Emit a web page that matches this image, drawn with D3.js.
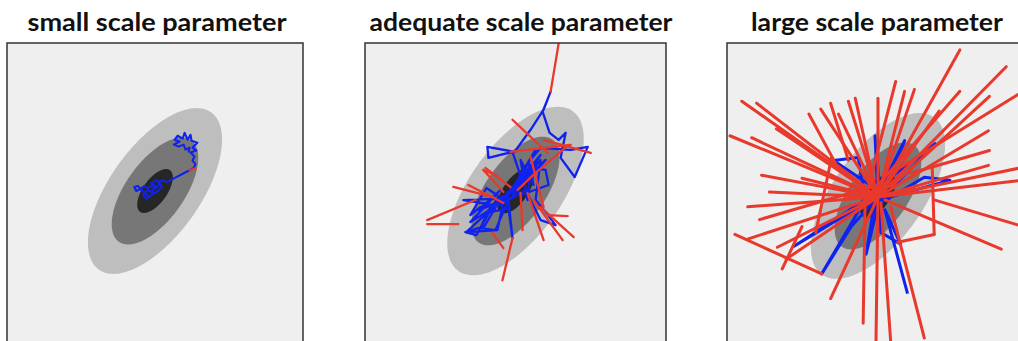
<!DOCTYPE html>
<html>
<head>
<meta charset="utf-8">
<script src="https://cdn.jsdelivr.net/npm/d3@7"></script>
<style>
  body { margin: 0; background: #fff; }
  svg { display: block; }
</style>
</head>
<body>
<div id="chart"></div>
<script>
// titles of the three panels
const titles = ["small scale parameter", "adequate scale parameter", "large scale parameter"];

// target density (2d gaussian) and the contour levels drawn (mahalanobis radius)
const targetSigma = [0.68, 0.84];
const targetRho = 0.62;
const contourRadii = [2.0, 1.29, 0.53];
const targetMean = [[0, 0], [0, 0], [0.06, -0.1]];

// accepted chain states (blue path), small proposal scale
const chainSmall = [
  [-0.10,-0.10],[-0.18,-0.16],[-0.24,-0.08],[-0.16,0.02],[-0.06,-0.02],[0.00,0.10],
  [-0.08,0.16],[0.04,0.22],[0.10,0.14],[0.02,0.06],[-0.04,0.12],[-0.14,0.06],
  [-0.22,0.10],[-0.30,0.04],[-0.38,0.00],[-0.42,0.08],[-0.34,0.10],[-0.28,0.02],
  [-0.20,-0.04],[-0.12,-0.12],[-0.04,-0.06],[0.06,0.00],[0.14,0.08],[0.08,0.18],
  [0.16,0.22],[0.24,0.18],[0.66,0.40],[0.78,0.46],[0.82,0.54],[0.76,0.62],
  [0.80,0.70],[0.72,0.78],[0.84,0.82],[0.76,0.88],[0.86,0.98],[0.74,1.02],
  [0.72,1.14],[0.66,1.04],[0.60,1.18],[0.56,1.06],[0.46,1.12],[0.40,1.04],
  [0.50,1.00],[0.38,0.94],[0.48,0.90],[0.58,0.94],[0.62,0.84],[0.70,0.88],[0.68,0.78]
];
// rejected proposals [fromX, fromY, toX, toY]
const rejectedSmall = [[0.70, 0.42, 0.82, 0.46]];

// adequate proposal scale
const chainAdequate = [
  [-0.20,-0.14],[0.10,0.30],[-0.06,0.78],[-0.54,0.66],[-0.56,0.88],[-0.02,0.78],
  [0.30,1.22],[0.56,1.62],[0.70,1.98],[0.54,1.58],[0.68,1.16],[0.86,1.02],
  [1.00,1.16],[0.90,0.66],[1.18,0.28],[1.44,0.88],[1.10,0.82],[0.50,0.86],
  [0.26,0.58],[0.36,0.12],[0.10,0.62],[0.24,-0.18],[0.30,0.52],[-0.06,-0.10],
  [0.50,0.62],[0.40,-0.18],[0.60,-0.42],[0.80,-0.68],[0.50,-0.58],[0.20,0.02],
  [-0.30,-0.28],[-0.70,-0.32],[-0.90,-0.48],[-0.58,0.06],[-0.34,-0.10],[-0.78,-0.88],
  [-1.00,-0.82],[-0.62,-0.70],[-0.26,-0.10],[-0.50,-0.42],[-0.14,-0.34],[-0.06,-0.94],
  [-0.14,-0.18],[-0.40,-0.78],[-0.70,-0.74],[-0.54,-0.38],[-0.20,-0.08],[0.30,0.46],
  [0.60,0.42],[0.66,0.12],[0.10,-0.08],[0.00,0.12],[0.50,0.72],[0.06,0.02],
  [0.60,0.62],[-0.06,-0.02],[0.40,0.82],[-0.20,-0.18],[-0.90,-0.62],[-0.30,0.02],
  [-0.74,-0.38],[-0.10,-0.14],[-1.04,-0.18],[-0.40,-0.28],[-0.98,-0.82],[-0.36,-0.78],
  [-0.24,-0.20],[0.20,0.40],[-0.12,-0.06]
];
const rejectedAdequate = [
  [0.70,1.98,0.88,3.06],[0.64,0.76,-0.06,1.42],[0.56,1.02,1.50,0.76],[-0.10,0.78,1.10,0.92],
  [-0.80,-0.18,-1.76,-0.58],[-1.14,-0.66,-1.76,-0.66],[-0.24,-0.24,-0.94,0.12],[-0.10,0.08,-0.60,0.46],
  [-0.06,-0.94,-0.26,-1.78],[-0.46,-0.84,-0.24,-1.14],[0.10,-0.04,0.14,-0.78],[0.24,-0.04,0.56,-0.98],
  [0.36,-0.18,0.94,-0.98],[0.50,-0.32,1.16,-0.92],[0.64,-0.48,1.04,-0.50],[0.30,0.68,0.56,-0.32],
  [0.04,0.02,0.40,0.36],[0.40,0.36,1.06,0.92],[-0.64,0.42,-0.36,0.30],[-0.64,0.42,-0.24,-0.02],
  [-1.24,0.08,-0.44,-0.12]
];

// large proposal scale
const chainLarge = [
  [0.06,-0.12],[0.00,1.12],[0.10,0.02],[0.60,1.02],[0.32,0.28],[1.22,0.96],
  [0.20,-0.08],[-0.84,0.62],[-0.34,0.68],[-0.20,-0.18],[-1.64,-1.12],[-0.26,-0.28],
  [-1.08,-1.68],[-0.48,-0.72],[0.00,-0.18],[-0.18,-1.28],[0.06,-0.28],[1.00,0.28],
  [1.52,0.22],[0.10,-0.18],[0.12,-0.84],[0.52,-1.08],[0.20,-0.38],[0.66,-2.08]
];
const rejectedLarge = [
  [0.06,-0.12,1.72,2.86],[0.06,-0.12,2.66,2.52],[0.32,0.36,3.00,2.02],[0.06,-0.12,-2.70,1.82],
  [0.06,-0.12,-2.94,1.12],[-0.20,0.08,-2.40,1.78],[-0.80,0.56,-1.34,1.56],[-0.54,0.62,-0.90,1.78],
  [0.00,0.08,-0.40,1.88],[0.06,-0.12,0.06,1.88],[-0.20,-0.18,0.42,2.22],[0.06,-0.12,0.80,2.06],
  [-0.20,-0.18,1.72,2.02],[0.32,0.08,2.32,1.92],[-0.20,-0.18,3.00,0.48],[0.72,0.36,2.32,0.82],
  [0.06,-0.12,-2.14,-0.02],[0.06,-0.12,-2.58,-0.32],[-0.08,0.08,-2.34,-0.58],[-1.08,-1.68,-2.84,-0.88],
  [0.06,-0.12,-1.98,-1.14],[-1.48,-0.72,-1.88,-1.58],[-0.20,-0.18,-0.24,-2.68],[0.06,-0.12,0.02,-3.08],
  [0.12,-0.24,0.32,-3.08],[0.32,-0.32,1.00,-2.98],[0.20,-0.18,2.56,-1.18],[1.20,-0.18,3.00,-0.72],
  [1.16,0.48,1.20,-0.88],[1.20,-0.88,0.46,-1.04],[-0.88,0.68,-1.20,-0.84],[0.06,-0.12,3.00,0.22],
  [0.06,-0.12,-1.48,0.26],[0.06,-0.12,-0.54,1.82],[0.06,-0.12,1.30,1.62],[0.06,-0.12,-0.74,1.56],
  [0.06,-0.12,-2.60,-0.98],[0.06,-0.12,-2.50,1.08],[0.06,-0.12,-2.00,1.26],[0.06,-0.12,-1.10,1.66],
  [0.06,-0.12,0.60,2.02],[0.06,-0.12,2.30,1.22],[0.06,-0.12,2.30,0.52],[0.06,-0.12,-2.30,0.32],
  [0.06,-0.12,-1.80,-1.38],[0.06,-0.12,-0.90,-2.18]
];

const chains = [chainSmall, chainAdequate, chainLarge];
const rejected = [rejectedSmall, rejectedAdequate, rejectedLarge];

// layout of the three panels (pixels)
const layout = [
  {left: 7,   width: 296, titleX: 157, titleW: 259, lw: 2.1},
  {left: 365, width: 301, titleX: 521, titleW: 303, lw: 2.3},
  {left: 727, width: 296, titleX: 877, titleW: 252, lw: 3.0}
];
const boxTop = 43, centerOffset = 148;
const shades = ["#bebebe", "#777777", "#262626"];
const blue = "#0f22ee", red = "#e8392c";

const svg = d3.select("#chart").append("svg")
  .attr("width", 1018).attr("height", 341);

const angles = d3.range(0, 2 * Math.PI, Math.PI / 90);

layout.forEach((p, i) => {
  const unit = p.width / 6;
  const boxH = 320;
  const x = d3.scaleLinear().domain([-3, 3]).range([0, p.width]);
  const y = d3.scaleLinear().domain([0, -1]).range([centerOffset, centerOffset + unit]);

  const g = svg.append("g").attr("transform", `translate(${p.left},${boxTop})`);

  svg.append("text")
    .attr("x", p.titleX).attr("y", 31)
    .attr("text-anchor", "middle")
    .attr("font-family", "Lato, 'Open Sans', sans-serif")
    .attr("font-weight", "bold")
    .attr("font-size", "24px")
    .attr("textLength", p.titleW)
    .attr("lengthAdjust", "spacingAndGlyphs")
    .attr("fill", "#111")
    .text(titles[i]);

  const clipId = "clip" + i;
  g.append("clipPath").attr("id", clipId)
    .append("rect").attr("width", p.width).attr("height", boxH);

  g.append("rect")
    .attr("width", p.width).attr("height", boxH)
    .attr("fill", "#efefef");

  const inner = g.append("g").attr("clip-path", `url(#${clipId})`);

  // contours of the target
  const [sx, sy] = targetSigma;
  const m = targetMean[i];
  const ell = d3.line()
    .x(d => x(d[0])).y(d => y(d[1]))
    .curve(d3.curveLinearClosed);
  contourRadii.forEach((r, k) => {
    const pts = angles.map(t => [
      m[0] + r * sx * Math.cos(t),
      m[1] + r * (targetRho * sy * Math.cos(t) + sy * Math.sqrt(1 - targetRho * targetRho) * Math.sin(t))
    ]);
    inner.append("path").datum(pts)
      .attr("d", ell)
      .attr("fill", shades[k]);
  });

  const line = d3.line().x(d => x(d[0])).y(d => y(d[1]));

  inner.append("path").datum(chains[i])
    .attr("d", line)
    .attr("fill", "none")
    .attr("stroke", blue)
    .attr("stroke-width", p.lw)
    .attr("stroke-linejoin", "round");

  inner.selectAll("line.rej").data(rejected[i]).enter().append("line")
    .attr("class", "rej")
    .attr("x1", d => x(d[0])).attr("y1", d => y(d[1]))
    .attr("x2", d => x(d[2])).attr("y2", d => y(d[3]))
    .attr("stroke", red)
    .attr("stroke-width", p.lw)
    .attr("stroke-linecap", "round");

  g.append("rect")
    .attr("width", p.width).attr("height", boxH)
    .attr("fill", "none")
    .attr("stroke", "#333")
    .attr("stroke-width", 1.5);
});
</script>
</body>
</html>
